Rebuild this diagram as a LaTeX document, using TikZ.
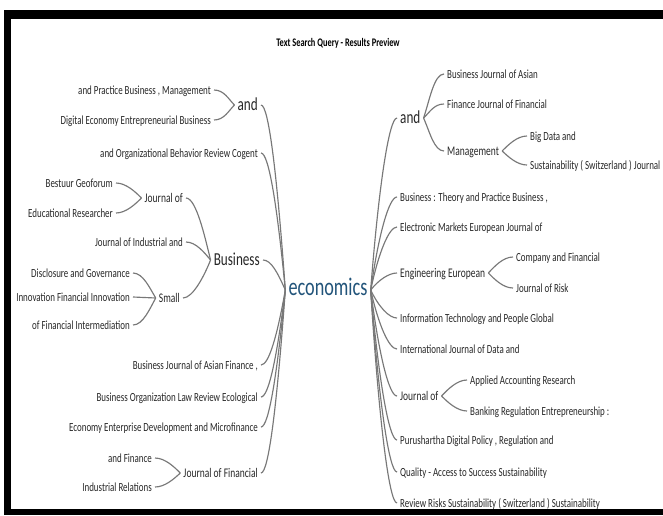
\documentclass[tikz,border=0pt]{standalone}
\usepackage{fontspec}
\setmainfont{Carlito}[FakeStretch=0.72]
\definecolor{txt}{RGB}{40,40,40}
\definecolor{lncol}{RGB}{120,120,120}
\definecolor{ecoc}{RGB}{34,84,122}
\begin{document}
\begin{tikzpicture}[x=1pt,y=-1pt,
  base/.style={text=txt, inner xsep=3pt, inner ysep=0pt, text depth=0pt},
  leaf/.style={base, font=\fontsize{12.4}{14}\selectfont, text height=8pt},
  mid/.style={base, font=\fontsize{13.2}{15}\selectfont, text height=8.4pt},
  big/.style={base, font=\fontsize{18.3}{21}\selectfont, text height=11.6pt},
  lhs/.style={anchor=east},
  rhs/.style={anchor=west},
  conn/.style={draw=lncol, line width=1.15pt},
  ttl/.style={text=black, inner sep=0pt, font=\bfseries\fontsize{11.6}{13}\selectfont},
  ecostyle/.style={text=ecoc, inner xsep=3pt, inner ysep=0pt, text depth=0pt, text height=11.8pt, font=\fontsize{25.3}{29}\selectfont}
]
\useasboundingbox (0,0) rectangle (663,515);
\fill[white] (0,0) rectangle (663,515);
% frame
\fill[black] (4,10) rectangle (663,19);
\fill[black] (4,10) rectangle (11,515);
\fill[black] (4,509) rectangle (663,515);

\node[ttl] (title) at (338,43) {Text Search Query - Results Preview};
\node[ecostyle] (eco) at (328,290) {economics};

% ---------- left side ----------
\node[big,lhs]  (andL)   at (261,105) {and};
\node[leaf,lhs] (cogent) at (261,153) {and Organizational Behavior Review Cogent};
\node[big,lhs]  (busL)   at (263,260) {Business};
\node[leaf,lhs] (asianF) at (261,365) {Business Journal of Asian Finance ,};
\node[leaf,lhs] (ecol)   at (261,397) {Business Organization Law Review Ecological};
\node[leaf,lhs] (micro)  at (261,427) {Economy Enterprise Development and Microfinance};
\node[mid,lhs]  (jfin)   at (261,473) {Journal of Financial};

\node[leaf,lhs] (mgmt)   at (214,90)  {and Practice Business , Management};
\node[leaf,lhs] (deeb)   at (214,120) {Digital Economy Entrepreneurial Business};
\node[mid,lhs]  (jofL)   at (186,198) {Journal of};
\node[leaf,lhs] (jind)   at (186,242) {Journal of Industrial and};
\node[mid,lhs]  (small)  at (183,298) {Small};
\node[leaf,lhs] (bestuur) at (116,183) {Bestuur Geoforum};
\node[leaf,lhs] (edres)  at (116,213) {Educational Researcher};
\node[leaf,lhs] (disc)   at (133,273) {Disclosure and Governance};
\node[leaf,lhs] (innov)  at (133,297) {Innovation Financial Innovation};
\node[leaf,lhs] (ofin)   at (133,325) {of Financial Intermediation};
\node[leaf,lhs] (andfin) at (155,458) {and Finance};
\node[leaf,lhs] (indrel) at (155,487) {Industrial Relations};

% ---------- right side ----------
\node[big,rhs]  (andR)   at (397,118) {and};
\node[leaf,rhs] (btp)    at (397,197) {Business : Theory and Practice Business ,};
\node[leaf,rhs] (emej)   at (397,227) {Electronic Markets European Journal of};
\node[mid,rhs]  (engE)   at (397,273) {Engineering European};
\node[leaf,rhs] (itpg)   at (397,318) {Information Technology and People Global};
\node[leaf,rhs] (ijda)   at (397,349) {International Journal of Data and};
\node[mid,rhs]  (jofR)   at (397,396) {Journal of};
\node[leaf,rhs] (pdp)    at (397,440) {Purushartha Digital Policy , Regulation and};
\node[leaf,rhs] (qas)    at (397,472) {Quality - Access to Success Sustainability};
\node[leaf,rhs] (rrs)    at (397,503) {Review Risks Sustainability ( Switzerland ) Sustainability};

\node[leaf,rhs] (bja)    at (444,74)  {Business Journal of Asian};
\node[leaf,rhs] (fjf)    at (444,104) {Finance Journal of Financial};
\node[mid,rhs]  (mgmtR)  at (444,151) {Management};
\node[leaf,rhs] (bigd)   at (527,136) {Big Data and};
\node[leaf,rhs] (sust)   at (527,165) {Sustainability ( Switzerland ) Journal};
\node[leaf,rhs] (caf)    at (513,257) {Company and Financial};
\node[leaf,rhs] (jor)    at (513,288) {Journal of Risk};
\node[leaf,rhs] (aar)    at (467,380) {Applied Accounting Research};
\node[leaf,rhs] (brE)    at (467,411) {Banking Regulation Entrepreneurship :};

% ---------- connectors: hub to level 1 (left) ----------
\draw[conn] (eco.west) .. controls +(-8,-111)   and +(8,0) .. (andL.east);
\draw[conn] (eco.west) .. controls +(-8,-82.2)  and +(8,0) .. (cogent.east);
\draw[conn] (eco.west) .. controls +(-8,-18)    and +(8,0) .. (busL.east);
\draw[conn] (eco.west) .. controls +(-8,45)     and +(8,0) .. (asianF.east);
\draw[conn] (eco.west) .. controls +(-8,64.2)   and +(8,0) .. (ecol.east);
\draw[conn] (eco.west) .. controls +(-8,82.2)   and +(8,0) .. (micro.east);
\draw[conn] (eco.west) .. controls +(-8,109.8)  and +(8,0) .. (jfin.east);

% ---------- connectors: hub to level 1 (right) ----------
\draw[conn] (eco.east) .. controls +(8,-103.2) and +(-8,0) .. (andR.west);
\draw[conn] (eco.east) .. controls +(8,-55.8)  and +(-8,0) .. (btp.west);
\draw[conn] (eco.east) .. controls +(8,-37.8)  and +(-8,0) .. (emej.west);
\draw[conn] (eco.east) .. controls +(8,-10.2)  and +(-8,0) .. (engE.west);
\draw[conn] (eco.east) .. controls +(8,16.8)   and +(-8,0) .. (itpg.west);
\draw[conn] (eco.east) .. controls +(8,35.4)   and +(-8,0) .. (ijda.west);
\draw[conn] (eco.east) .. controls +(8,63.6)   and +(-8,0) .. (jofR.west);
\draw[conn] (eco.east) .. controls +(8,90)     and +(-8,0) .. (pdp.west);
\draw[conn] (eco.east) .. controls +(8,109.2)  and +(-8,0) .. (qas.west);
\draw[conn] (eco.east) .. controls +(8,127.8)  and +(-8,0) .. (rrs.west);

% ---------- left sub-branches ----------
\draw[conn] (andL.west) .. controls +(-6,-6)  and +(10,0) .. (mgmt.east);
\draw[conn] (andL.west) .. controls +(-6,6)   and +(10,0) .. (deeb.east);
\draw[conn] (busL.west) .. controls +(-6,-24.8) and +(10,0) .. (jofL.east);
\draw[conn] (busL.west) .. controls +(-6,-7.2)  and +(10,0) .. (jind.east);
\draw[conn] (busL.west) .. controls +(-6,15.2)  and +(10,0) .. (small.east);
\draw[conn] (jofL.west) .. controls +(-6,-6)  and +(10,0) .. (bestuur.east);
\draw[conn] (jofL.west) .. controls +(-6,6)   and +(10,0) .. (edres.east);
\draw[conn] (small.west) .. controls +(-6,-10) and +(10,0) .. (disc.east);
\draw[conn] (small.west) -- (innov.east);
\draw[conn] (small.west) .. controls +(-6,10.8) and +(10,0) .. (ofin.east);
\draw[conn] (jfin.west) .. controls +(-6,-6)  and +(10,0) .. (andfin.east);
\draw[conn] (jfin.west) .. controls +(-6,5.6) and +(10,0) .. (indrel.east);

% ---------- right sub-branches ----------
\draw[conn] (andR.east) .. controls +(6,-17.6) and +(-10,0) .. (bja.west);
\draw[conn] (andR.east) .. controls +(6,-5.6)  and +(-10,0) .. (fjf.west);
\draw[conn] (andR.east) .. controls +(6,13.2)  and +(-10,0) .. (mgmtR.west);
\draw[conn] (mgmtR.east) .. controls +(6,-6)  and +(-10,0) .. (bigd.west);
\draw[conn] (mgmtR.east) .. controls +(6,5.6) and +(-10,0) .. (sust.west);
\draw[conn] (engE.east) .. controls +(6,-6.4) and +(-10,0) .. (caf.west);
\draw[conn] (engE.east) .. controls +(6,6)    and +(-10,0) .. (jor.west);
\draw[conn] (jofR.east) .. controls +(6,-6.4) and +(-10,0) .. (aar.west);
\draw[conn] (jofR.east) .. controls +(6,6)    and +(-10,0) .. (brE.west);
\end{tikzpicture}
\end{document}
